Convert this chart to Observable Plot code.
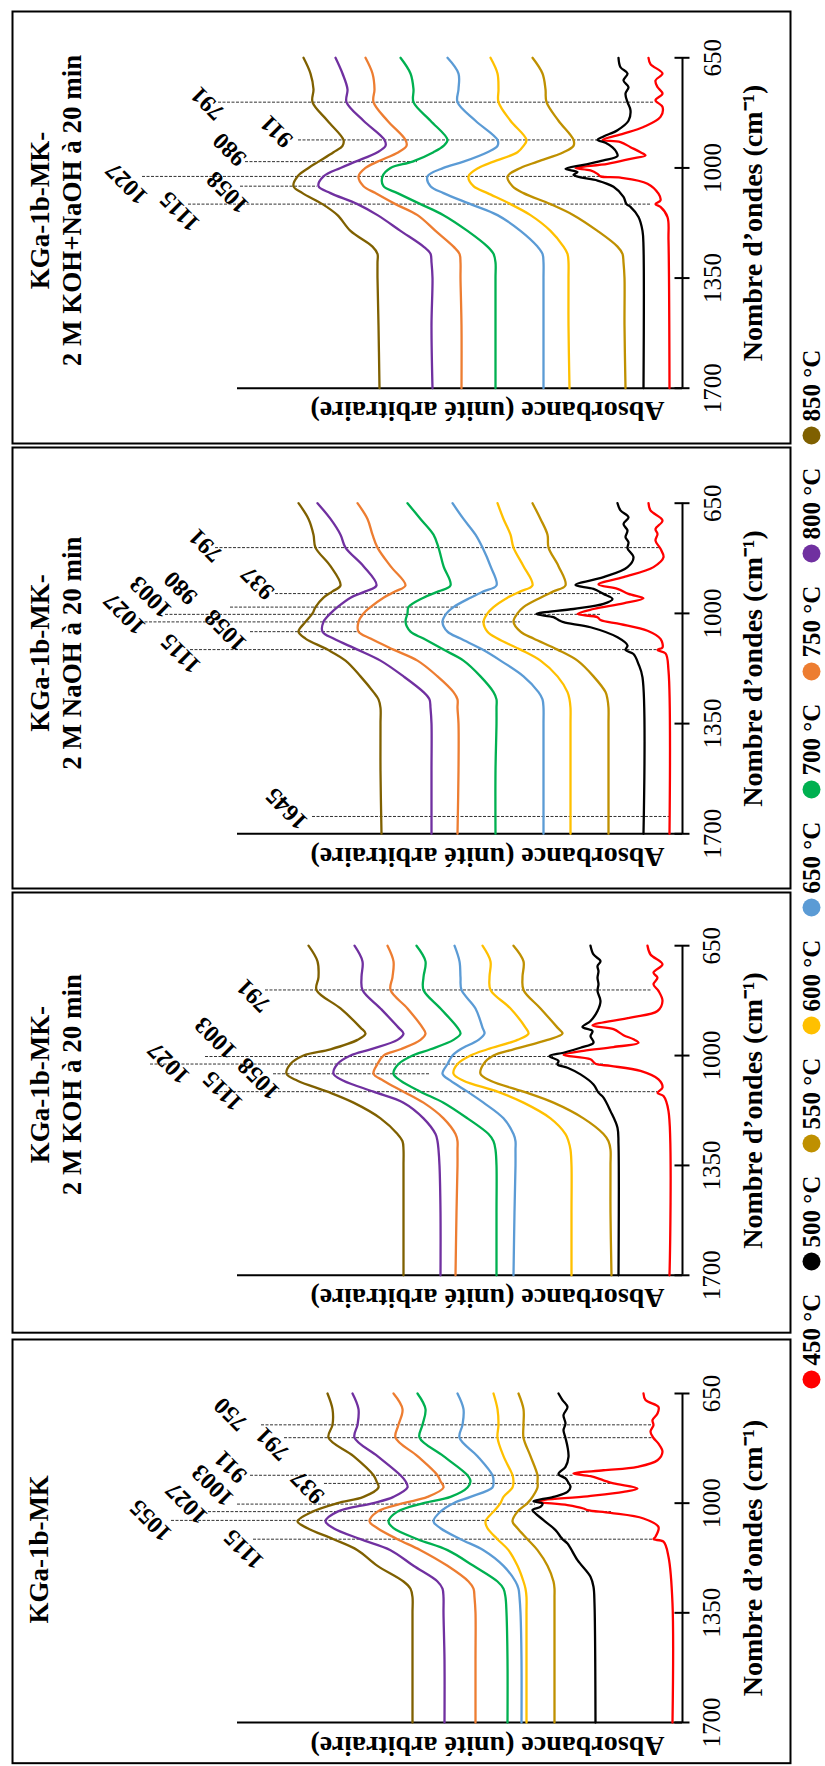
<!DOCTYPE html>
<html><head><meta charset="utf-8">
<script src="https://cdn.jsdelivr.net/npm/d3@7"></script>
<script src="https://cdn.jsdelivr.net/npm/@observablehq/plot@0.6"></script>
<style>
html,body{margin:0;padding:0;background:#fff;overflow:hidden}
#fig{position:relative;width:825px;height:1766px;font-family:"Liberation Serif",serif}
</style></head><body><div id="fig"></div>
<script>
// ---------------- DATA ----------------
const temps = ["450 °C","500 °C","550 °C","600 °C","650 °C","700 °C","750 °C","800 °C","850 °C"];
const colors = ["#ff0000","#000000","#bf9000","#ffc000","#5b9bd5","#00b050","#ed7d31","#7030a0","#7f6000"];
const smoothTemps = temps.slice(2); // 550 .. 850
const waveTicks = [650, 1000, 1350, 1700];
const absDomain = [0, 4.45];
// wavenumber grid (cm-1) of the smooth spectra
const wnGrid = [650,700,750,791,850,911,930,950,980,1000,1027,1058,1080,1115,1150,1200,1250,1273,1300,1350,1500,1700];

// ---- KGa-1b-MK-2 M KOH+NaOH à 20 min ----
const kohNaohSmooth = [
  [1.50,1.40,1.37,1.36,1.24,1.09,1.09,1.19,1.45,1.62,1.75,1.70,1.59,1.32,1.09,0.85,0.65,0.60,0.59,0.58,0.58,0.57],
  [1.92,1.85,1.84,1.84,1.72,1.56,1.59,1.65,1.89,2.04,2.14,2.09,1.95,1.72,1.52,1.32,1.19,1.15,1.14,1.14,1.14,1.13],
  [2.35,2.24,2.24,2.25,2.07,1.85,1.85,1.95,2.19,2.39,2.55,2.52,2.39,2.12,1.85,1.62,1.45,1.40,1.39,1.39,1.39,1.39],
  [2.82,2.72,2.69,2.69,2.52,2.35,2.39,2.49,2.70,2.92,3.00,2.99,2.85,2.62,2.39,2.15,1.95,1.89,1.87,1.87,1.87,1.87],
  [3.17,3.10,3.08,3.09,2.95,2.77,2.76,2.84,3.05,3.17,3.24,3.19,3.07,2.87,2.65,2.47,2.29,2.23,2.22,2.22,2.21,2.21],
  [3.47,3.40,3.35,3.36,3.19,2.98,2.97,3.05,3.27,3.42,3.59,3.64,3.52,3.25,3.05,2.82,2.59,2.52,2.51,2.50,2.51,2.50],
  [3.79,3.72,3.69,3.70,3.55,3.39,3.40,3.49,3.64,3.74,3.85,3.89,3.80,3.60,3.45,3.32,3.10,3.05,3.05,3.05,3.04,3.03]
];
const kohNaohBlack = [[650,0.64],[680,0.62],[700,0.55],[722,0.59],[743,0.54],[764,0.57],[791,0.55],[817,0.52],[850,0.54],[880,0.65],[900,0.79],[911,0.85],[920,0.77],[935,0.70],[950,0.66],[962,0.65],[976,0.79],[990,0.99],[1003,1.17],[1013,1.05],[1022,1.09],[1030,1.02],[1040,0.85],[1060,0.69],[1092,0.59],[1115,0.56],[1124,0.52],[1156,0.44],[1200,0.40],[1250,0.39],[1700,0.39]];
const kohNaohRed = [[650,0.34],[670,0.32],[700,0.20],[722,0.27],[743,0.25],[764,0.20],[785,0.27],[806,0.20],[838,0.22],[870,0.39],[891,0.59],[911,0.80],[918,0.62],[934,0.52],[950,0.42],[960,0.37],[971,0.52],[987,0.75],[1000,1.07],[1008,0.92],[1019,0.85],[1027,0.82],[1031,0.62],[1050,0.35],[1082,0.24],[1103,0.22],[1115,0.27],[1124,0.22],[1156,0.15],[1230,0.14],[1700,0.13]];
const kohNaohPeaks = [[791,4.64,0.29],[911,3.84,0.82],[980,4.37,2.65],[1027,5.40,0.75],[1058,4.42,3.65],[1115,4.94,0.32]];
const kohNaohLabels = [["791",795,4.75],["911",884,4.06],["980",941,4.53],["1058",1078,4.55],["1115",1138,5.03],["1027",1049,5.56]];

// ---- KGa-1b-MK-2 M NaOH à 20 min ----
const naohSmooth = [
  [1.50,1.42,1.35,1.34,1.24,1.17,1.29,1.42,1.59,1.65,1.69,1.62,1.49,1.25,1.05,0.89,0.77,0.75,0.74,0.74,0.74,0.74],
  [1.85,1.79,1.72,1.69,1.59,1.50,1.62,1.75,1.89,1.95,1.99,1.95,1.85,1.62,1.42,1.25,1.15,1.13,1.12,1.12,1.12,1.12],
  [2.30,2.19,2.07,2.00,1.92,1.86,1.99,2.12,2.29,2.36,2.40,2.35,2.22,2.00,1.82,1.59,1.44,1.40,1.39,1.39,1.39,1.39],
  [2.75,2.62,2.49,2.44,2.39,2.32,2.44,2.59,2.74,2.75,2.77,2.72,2.59,2.39,2.19,2.02,1.89,1.86,1.86,1.86,1.87,1.87],
  [3.25,3.15,3.10,3.05,2.92,2.77,2.87,2.99,3.12,3.19,3.24,3.24,3.12,2.89,2.65,2.45,2.29,2.25,2.25,2.24,2.24,2.25],
  [3.65,3.52,3.42,3.37,3.19,3.06,3.17,3.32,3.45,3.52,3.59,3.60,3.49,3.25,3.02,2.79,2.59,2.53,2.52,2.51,2.51,2.51],
  [3.84,3.74,3.69,3.67,3.52,3.42,3.50,3.59,3.67,3.70,3.77,3.84,3.77,3.55,3.37,3.22,3.09,3.04,3.02,3.02,3.02,3.01]
];
const naohBlack = [[650,0.65],[673,0.62],[695,0.54],[716,0.59],[737,0.55],[758,0.57],[774,0.54],[793,0.55],[822,0.49],[853,0.55],[885,0.79],[910,1.07],[922,0.89],[938,0.79],[954,0.70],[970,0.79],[986,1.09],[1002,1.46],[1012,1.29],[1021,1.24],[1028,1.19],[1044,0.92],[1076,0.65],[1102,0.55],[1116,0.57],[1129,0.49],[1161,0.44],[1203,0.40],[1700,0.39]];
const naohRed = [[650,0.34],[673,0.32],[705,0.20],[732,0.27],[748,0.25],[769,0.27],[795,0.22],[822,0.19],[853,0.29],[885,0.59],[908,0.84],[922,0.65],[938,0.54],[952,0.39],[968,0.59],[986,0.89],[1002,1.05],[1012,0.85],[1021,0.82],[1034,0.62],[1055,0.35],[1081,0.22],[1108,0.20],[1116,0.25],[1127,0.17],[1182,0.14],[1700,0.13]];
const naohPeaks = [[791,4.67,0.22],[937,4.07,0.62],[980,4.52,2.22],[1003,5.17,0.82],[1027,5.42,1.62],[1058,4.32,3.22],[1115,4.92,0.25],[1645,3.70,0.12]];
const naohLabels = [["791",784,4.77],["937",903,4.25],["980",919,5.02],["1003",948,5.32],["1027",1001,5.58],["1058",1054,4.57],["1115",1127,5.02],["1645",1620,3.96]];

// ---- KGa-1b-MK-2 M KOH à 20 min ----
const kohSmooth = [
  [1.69,1.59,1.60,1.59,1.42,1.25,1.20,1.35,1.69,1.89,1.99,2.02,1.92,1.59,1.29,0.99,0.79,0.74,0.72,0.72,0.72,0.71],
  [2.00,1.92,1.93,1.92,1.72,1.57,1.54,1.65,1.95,2.12,2.25,2.29,2.19,1.85,1.59,1.32,1.17,1.14,1.12,1.11,1.11,1.11],
  [2.28,2.23,2.22,2.21,2.07,2.00,1.98,2.04,2.22,2.30,2.35,2.40,2.32,2.15,1.99,1.79,1.69,1.67,1.67,1.67,1.68,1.69],
  [2.66,2.57,2.59,2.59,2.42,2.25,2.22,2.29,2.52,2.70,2.84,2.89,2.82,2.62,2.39,2.15,1.94,1.89,1.87,1.86,1.86,1.86],
  [2.95,2.89,2.90,2.92,2.75,2.60,2.57,2.62,2.82,2.99,3.05,3.09,2.99,2.79,2.59,2.39,2.27,2.25,2.25,2.25,2.26,2.27],
  [3.28,3.20,3.21,3.20,3.02,2.84,2.79,2.85,3.12,3.32,3.45,3.49,3.39,3.09,2.79,2.59,2.47,2.45,2.44,2.43,2.42,2.42],
  [3.74,3.65,3.64,3.66,3.42,3.22,3.17,3.25,3.52,3.79,3.92,3.96,3.85,3.55,3.29,3.02,2.85,2.80,2.79,2.79,2.79,2.79]
];
const kohBlack = [[650,0.92],[678,0.89],[699,0.82],[715,0.85],[731,0.84],[752,0.85],[773,0.84],[794,0.85],[826,0.82],[858,0.85],[890,0.92],[909,1.00],[922,0.90],[938,0.92],[959,0.89],[975,1.02],[991,1.19],[1002,1.33],[1017,1.24],[1028,1.25],[1039,1.15],[1060,1.02],[1092,0.89],[1118,0.84],[1134,0.79],[1177,0.72],[1230,0.65],[1283,0.64],[1700,0.64]];
const kohRed = [[650,0.35],[678,0.32],[709,0.20],[736,0.29],[752,0.25],[773,0.29],[794,0.24],[826,0.20],[858,0.25],[879,0.52],[904,0.90],[916,0.69],[935,0.59],[948,0.49],[959,0.44],[973,0.69],[985,0.99],[998,1.19],[1012,0.92],[1026,0.87],[1033,0.72],[1049,0.42],[1076,0.24],[1102,0.20],[1119,0.25],[1129,0.19],[1177,0.14],[1700,0.13]];
const kohPeaks = [[791,4.17,0.30],[1003,4.77,1.29],[1027,5.32,0.79],[1058,4.09,2.52],[1115,4.67,0.25]];
const kohLabels = [["791",809,4.29],["1058",1074,4.24],["1003",944,4.67],["1115",1113,4.60],["1027",1024,5.14]];

// ---- KGa-1b-MK ----
const mkSmooth = [
  [1.64,1.59,1.59,1.59,1.52,1.45,1.45,1.45,1.50,1.55,1.65,1.70,1.65,1.55,1.45,1.35,1.29,1.28,1.28,1.28,1.28,1.28],
  [1.89,1.85,1.84,1.85,1.79,1.70,1.69,1.70,1.79,1.82,1.89,1.97,1.95,1.85,1.74,1.65,1.59,1.57,1.56,1.56,1.56,1.56],
  [2.25,2.19,2.20,2.23,2.05,1.90,1.89,1.90,2.12,2.29,2.42,2.49,2.42,2.22,1.99,1.79,1.67,1.64,1.63,1.62,1.61,1.61],
  [2.65,2.57,2.60,2.63,2.39,2.15,2.12,2.15,2.32,2.59,2.85,2.94,2.89,2.65,2.35,2.09,1.85,1.79,1.77,1.76,1.75,1.75],
  [2.89,2.80,2.84,2.87,2.65,2.45,2.42,2.39,2.55,2.79,3.05,3.13,3.05,2.85,2.62,2.35,2.14,2.09,2.08,2.07,2.07,2.07],
  [3.30,3.24,3.25,3.28,3.05,2.82,2.77,2.75,2.89,3.09,3.45,3.57,3.49,3.22,2.92,2.69,2.45,2.40,2.39,2.39,2.38,2.38],
  [3.55,3.50,3.50,3.54,3.29,3.09,3.06,3.04,3.19,3.45,3.70,3.85,3.75,3.49,3.25,3.05,2.79,2.72,2.70,2.70,2.70,2.70]
];
const mkBlack = [[650,1.24],[671,1.20],[693,1.15],[719,1.19],[746,1.17],[767,1.19],[792,1.17],[820,1.15],[852,1.14],[884,1.17],[907,1.24],[921,1.17],[935,1.14],[948,1.12],[964,1.15],[980,1.29],[994,1.49],[1001,1.40],[1012,1.42],[1022,1.50],[1033,1.47],[1054,1.39],[1086,1.27],[1107,1.22],[1115,1.20],[1129,1.15],[1182,1.05],[1235,0.92],[1267,0.89],[1320,0.88],[1700,0.87]];
const mkRed = [[650,0.39],[671,0.37],[693,0.24],[714,0.25],[735,0.30],[751,0.29],[772,0.32],[792,0.29],[810,0.24],[836,0.20],[863,0.25],[884,0.45],[895,0.79],[905,1.09],[914,0.92],[927,0.79],[937,0.69],[953,0.45],[964,0.59],[978,0.95],[994,1.47],[1006,1.15],[1017,0.99],[1022,0.95],[1031,0.72],[1049,0.39],[1076,0.24],[1107,0.27],[1115,0.29],[1123,0.19],[1171,0.14],[1320,0.10],[1700,0.10]];
const mkPeaks = [[750,4.21,0.31],[791,3.98,0.29],[911,4.32,1.08],[937,3.58,0.68],[1003,4.45,1.47],[1027,4.74,0.71],[1055,5.11,1.92],[1115,4.29,0.29]];
const mkLabels = [["750",716,4.52],["791",811,4.10],["911",884,4.52],["937",949,3.75],["1003",943,4.70],["1027",1000,4.96],["1055",1055,5.32],["1115",1147,4.39]];

const panelTitles = ["KGa-1b-MK-\n2 M KOH+NaOH à 20 min","KGa-1b-MK-\n2 M NaOH à 20 min","KGa-1b-MK-\n2 M KOH à 20 min","KGa-1b-MK"];
const xTitle = "Nombre d’ondes (cm⁻¹)";
const yTitle = "Absorbance (unité arbitraire)";

// ---------------- LAYOUT ----------------
const panels = [
  {title: panelTitles[0], smooth: kohNaohSmooth, black: kohNaohBlack, red: kohNaohRed, peaks: kohNaohPeaks, labels: kohNaohLabels,
   boxTop: 11, boxBottom: 443, y650: 57.3, y1700: 387.7, tdx: 42, tdy: -17},
  {title: panelTitles[1], smooth: naohSmooth, black: naohBlack, red: naohRed, peaks: naohPeaks, labels: naohLabels,
   boxTop: 447, boxBottom: 888, y650: 502.7, y1700: 833.3, tdx: 42, tdy: -15},
  {title: panelTitles[2], smooth: kohSmooth, black: kohBlack, red: kohRed, peaks: kohPeaks, labels: kohLabels,
   boxTop: 891.5, boxBottom: 1331.7, y650: 944.7, y1700: 1274.3, tdx: 42, tdy: -28},
  {title: panelTitles[3], smooth: mkSmooth, black: mkBlack, red: mkRed, peaks: mkPeaks, labels: mkLabels,
   boxTop: 1339.3, boxBottom: 1763, y650: 1393.3, y1700: 1722.3, tdx: 25, tdy: -2}
];

const fig = document.getElementById("fig");
const FONT = "'Liberation Serif', 'Times New Roman', serif";

function rowsFor(p) {
  const rows = [];
  p.red.forEach(([wn, a]) => rows.push({t: temps[0], wn, a}));
  p.black.forEach(([wn, a]) => rows.push({t: temps[1], wn, a}));
  smoothTemps.forEach((t, j) => p.smooth[j].forEach((a, i) => rows.push({t, wn: wnGrid[i], a})));
  return rows;
}

panels.forEach(p => {
  const top = p.boxTop - 2;
  const H = p.boxBottom - p.boxTop + 4;
  const rows = rowsFor(p);
  const svg = Plot.plot({
    width: 825, height: H,
    marginLeft: 12, marginRight: 35, marginTop: 2, marginBottom: 2,
    style: `position:absolute;left:0;top:${top}px;background:transparent;overflow:visible;font-family:${FONT};`,
    x: {domain: absDomain, range: [682, 237], axis: null},
    y: {domain: [650, 1700], range: [p.y650 - top, p.y1700 - top], axis: null},
    color: {domain: temps, range: colors},
    marks: [
      Plot.frame({stroke: "#000", strokeWidth: 2}),
      // dashed peak markers
      Plot.ruleY(p.peaks, {y: d => d[0], x1: d => d[1], x2: d => d[2], stroke: "#333", strokeWidth: 1, strokeDasharray: "3,1.5"}),
      // axes
      Plot.ruleX([0], {x: d => d, y1: () => 650, y2: () => 1700, stroke: "#000", strokeWidth: 2}),
      Plot.ruleY([1700], {y: d => d, x1: () => absDomain[0], x2: () => absDomain[1], stroke: "#000", strokeWidth: 2}),
      Plot.ruleY(waveTicks, {y: d => d, x1: () => 0, x2: () => 0, insetLeft: -7.5, insetRight: -7.5, stroke: "#000", strokeWidth: 2}),
      // spectra
      Plot.line(rows, {x: "a", y: "wn", z: "t", stroke: "t", strokeWidth: 2.3, curve: "catmull-rom"}),
      // tick labels
      Plot.text(waveTicks, {x: () => 0, y: d => d, text: d => String(d), dx: 30, rotate: -90, fontSize: 25, fill: "#000"}),
      // axis titles
      Plot.text([xTitle], {x: () => 0, y: () => (650 + 1700) / 2, text: d => d, dx: 71, rotate: -90, fontSize: 28, fontWeight: "bold", fill: "#000"}),
      Plot.text([yTitle], {x: () => 1.95, y: () => 1700, text: d => d, dy: 23, rotate: 180, fontSize: 28, fontWeight: "bold", fill: "#000"}),
      // panel title
      Plot.text([p.title], {frameAnchor: "left", textAnchor: "middle", lineAnchor: "middle", text: d => d, dx: p.tdx, dy: p.tdy, rotate: -90, fontSize: 27, fontWeight: "bold", lineHeight: 1.185, fill: "#000"}),
      // peak labels
      Plot.text(p.labels, {x: d => d[2], y: d => d[1], text: d => d[0], rotate: -135, fontSize: 24, fontWeight: "bold", fill: "#000"})
    ]
  });
  fig.appendChild(svg);
});

// legend
const legTop = 320;
const legend = Plot.plot({
  width: 40, height: 1120,
  margin: 0,
  style: `position:absolute;left:791px;top:${legTop}px;background:transparent;overflow:visible;font-family:${FONT};`,
  y: {type: "point", padding: 0, domain: temps.slice().reverse(), range: [432 - legTop, 1382 - legTop], axis: null},
  color: {domain: temps, range: colors},
  marks: [
    Plot.dot(temps, {y: d => d, fill: d => d, r: 9}),
    Plot.text(temps, {y: d => d, text: d => d, rotate: -90, textAnchor: "start", dy: -14, fontSize: 25, fontWeight: "bold", fill: "#000"})
  ]
});
fig.appendChild(legend);
</script></body></html>
